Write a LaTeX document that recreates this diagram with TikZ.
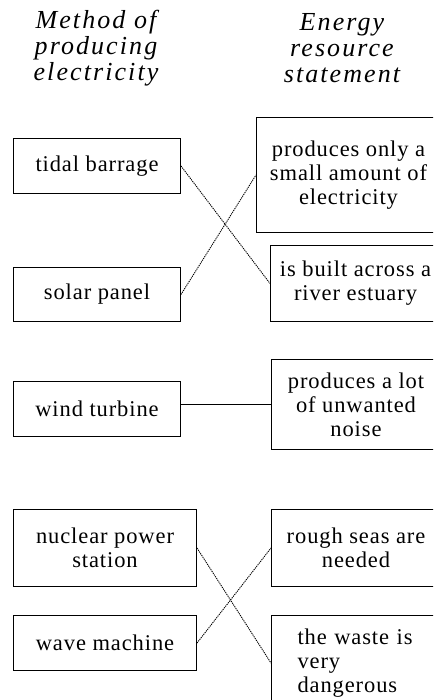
\documentclass[tikz,border=0pt]{standalone}
\usepackage{fontspec}
\setmainfont{Liberation Serif}

\begin{document}
\begin{tikzpicture}[x=1pt,y=-1pt,
  box/.style={draw,line width=1pt,anchor=north west,align=center,inner sep=0pt,
    font=\addfontfeatures{LetterSpace=4}\fontsize{22.5}{24}\selectfont},
  head/.style={align=center,font=\itshape\addfontfeatures{LetterSpace=8}\fontsize{26}{26}\selectfont},
  link/.style={dash pattern=on 1.2pt off 0.9pt,line width=0.9pt}]
\useasboundingbox (0,0) rectangle (433,700);
\clip (0,0) rectangle (433,700);
\node[head] (methodhead) at (96,48) {Method of\\producing\\electricity};
\node[head] (energyhead) at (342,48) {Energy\\resource\\statement};
% left column
\node[box,minimum width=167pt,minimum height=55pt] (tidal) at (13,138) {tidal barrage};
\node[box,minimum width=167pt,minimum height=54pt] (solar) at (13,267) {solar panel};
\node[box,minimum width=167pt,minimum height=55pt] (wind) at (13,381) {wind turbine};
\node[box,minimum width=183pt,minimum height=77pt] (nuclear) at (13,509) {nuclear power\\station};
\node[box,minimum width=183pt,minimum height=55pt] (wave) at (13,615) {wave machine};
% right column
\node[box,minimum width=184pt,minimum height=115pt] (small) at (256,117) {produces only a\\small amount of\\electricity};
\node[box,minimum width=170pt,minimum height=76pt] (estuary) at (270,245) {is built across a\\river estuary};
\node[box,minimum width=169pt,minimum height=90pt] (noise) at (271,359) {produces a lot\\of unwanted\\noise};
\node[box,minimum width=169pt,minimum height=77pt] (rough) at (271,509) {rough seas are\\needed};
\node[box,align=left,text width=140pt,inner xsep=26pt,minimum height=95pt] (waste) at (271,615) {the waste is\\very\\dangerous};
% links
\draw[link] (tidal.east) -- (estuary.west);
\draw[link] (solar.east) -- (small.west);
\draw[line width=1pt] (noise.west) -- (noise.west -| wind.east);
\draw[link] (nuclear.east) -- (waste.west);
\draw[link] (wave.east) -- (rough.west);
\end{tikzpicture}
\end{document}
